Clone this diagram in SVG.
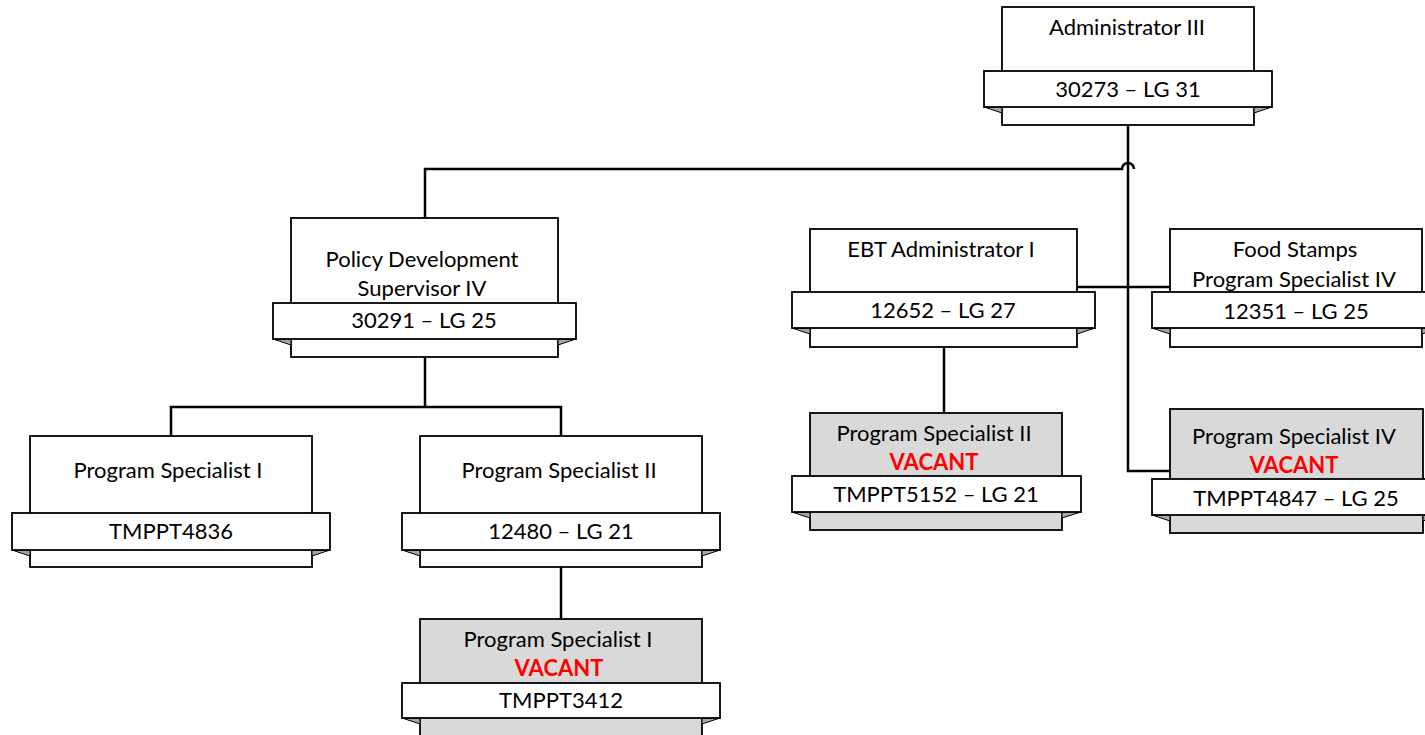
<svg xmlns="http://www.w3.org/2000/svg" width="1425" height="735" viewBox="0 0 1425 735">
<style>
.box{fill:#fff;stroke:#000;stroke-width:1.8}
.vac{fill:#d9d9d9;stroke:#000;stroke-width:1.8}
.rib{fill:#fff;stroke:#000;stroke-width:1.8}
.fold{fill:#a6a6a6;stroke:#000;stroke-width:1}
.t{font-family:Lato,"Open Sans",sans-serif;font-size:22px;fill:#000;text-anchor:middle}
.v{font-family:Lato,"Open Sans",sans-serif;font-size:22px;font-weight:bold;fill:#ff0000;text-anchor:middle}
.ln{fill:none;stroke:#000;stroke-width:2.5}
</style>
<rect width="1425" height="735" fill="#fff"/>
<g id="connectors">
<path class="ln" d="M1128,125 V471 H1170"/>
<path class="ln" d="M425,218 V169 H1122 A6,6 0 0 1 1134,169"/>
<path class="ln" d="M1077,287 H1170"/>
<path class="ln" d="M944,347 V413"/>
<path class="ln" d="M425,357 V407 M171,436 V407 H561 V436"/>
<path class="ln" d="M561,567 V619"/>
</g>
<g id="n-admin3">
<rect class="box" x="1002" y="7" width="252" height="118"/>
<polygon class="fold" points="984,107 1002,107 1002,113"/>
<polygon class="fold" points="1272,107 1254,107 1254,113"/>
<rect class="rib" x="984" y="71" width="288" height="36"/>
<text class="t" x="1127" y="35">Administrator III</text>
<text class="t" x="1128" y="97">30273 – LG 31</text>
</g>
<g id="n-policy">
<rect class="box" x="291" y="218" width="267" height="139"/>
<polygon class="fold" points="273,339 291,339 291,345"/>
<polygon class="fold" points="576,339 558,339 558,345"/>
<rect class="rib" x="273" y="303" width="303" height="36"/>
<text class="t" x="422" y="267">Policy Development</text>
<text class="t" x="422" y="296">Supervisor IV</text>
<text class="t" x="424" y="328">30291 – LG 25</text>
</g>
<g id="n-ebt">
<rect class="box" x="810" y="229" width="267" height="118"/>
<polygon class="fold" points="792,328 810,328 810,334"/>
<polygon class="fold" points="1095,328 1077,328 1077,334"/>
<rect class="rib" x="792" y="292" width="303" height="36"/>
<text class="t" x="941" y="257">EBT Administrator I</text>
<text class="t" x="943" y="318">12652 – LG 27</text>
</g>
<g id="n-foodstamps">
<rect class="box" x="1170" y="229" width="252" height="118"/>
<polygon class="fold" points="1152,328 1170,328 1170,334"/>
<polygon class="fold" points="1440,328 1422,328 1422,334"/>
<rect class="rib" x="1152" y="292" width="288" height="36"/>
<text class="t" x="1295" y="257">Food Stamps</text>
<text class="t" x="1294" y="287">Program Specialist IV</text>
<text class="t" x="1296" y="319">12351 – LG 25</text>
</g>
<g id="n-ps1-left">
<rect class="box" x="30" y="436" width="282" height="131"/>
<polygon class="fold" points="12,550 30,550 30,556"/>
<polygon class="fold" points="330,550 312,550 312,556"/>
<rect class="rib" x="12" y="513" width="318" height="37"/>
<text class="t" x="168" y="478">Program Specialist I</text>
<text class="t" x="171" y="539">TMPPT4836</text>
</g>
<g id="n-ps2">
<rect class="box" x="420" y="436" width="282" height="131"/>
<polygon class="fold" points="402,550 420,550 420,556"/>
<polygon class="fold" points="720,550 702,550 702,556"/>
<rect class="rib" x="402" y="513" width="318" height="37"/>
<text class="t" x="559" y="478">Program Specialist II</text>
<text class="t" x="561" y="539">12480 – LG 21</text>
</g>
<g id="n-ps1-vacant">
<rect class="vac" x="420" y="619" width="282" height="130"/>
<polygon class="fold" points="402,718 420,718 420,724"/>
<polygon class="fold" points="720,718 702,718 702,724"/>
<rect class="rib" x="402" y="683" width="318" height="35"/>
<text class="t" x="558" y="647">Program Specialist I</text>
<text class="v" x="559" y="676">VACANT</text>
<text class="t" x="561" y="708">TMPPT3412</text>
</g>
<g id="n-ps2-vacant">
<rect class="vac" x="810" y="413" width="252" height="117"/>
<polygon class="fold" points="792,512 810,512 810,518"/>
<polygon class="fold" points="1081,512 1062,512 1062,518"/>
<rect class="rib" x="792" y="476" width="289" height="36"/>
<text class="t" x="934" y="441">Program Specialist II</text>
<text class="v" x="934" y="470">VACANT</text>
<text class="t" x="936" y="502">TMPPT5152 – LG 21</text>
</g>
<g id="n-ps4-vacant">
<rect class="vac" x="1170" y="409" width="253" height="124"/>
<polygon class="fold" points="1152,515 1170,515 1170,521"/>
<polygon class="fold" points="1440,515 1423,515 1423,521"/>
<rect class="rib" x="1152" y="479" width="288" height="36"/>
<text class="t" x="1294" y="444">Program Specialist IV</text>
<text class="v" x="1294" y="473">VACANT</text>
<text class="t" x="1296" y="506">TMPPT4847 – LG 25</text>
</g>
</svg>
